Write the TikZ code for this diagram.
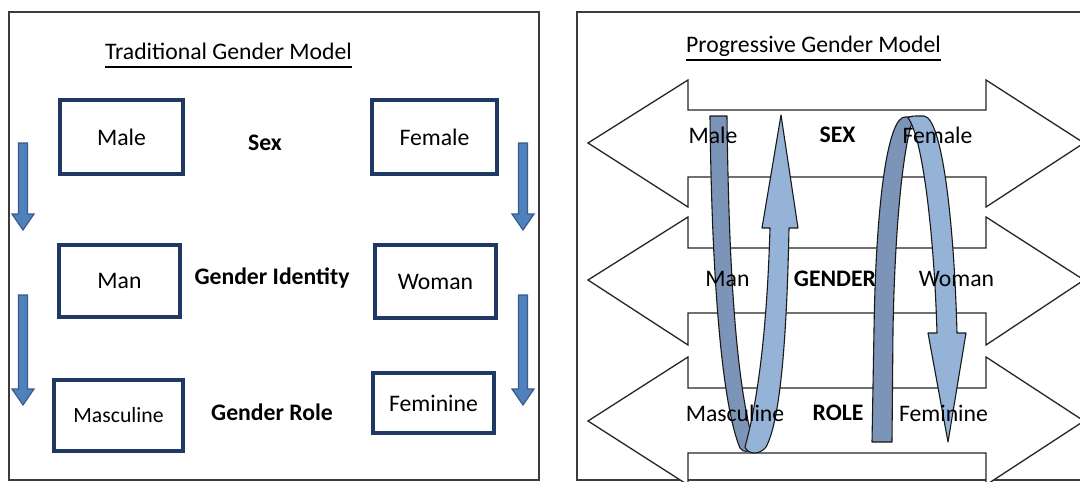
\documentclass[tikz,border=0pt]{standalone}
\usepackage{fontspec}
\setmainfont{Carlito}
\usetikzlibrary{positioning}
\definecolor{boxblue}{RGB}{32,56,100}
\definecolor{arrowblue}{RGB}{79,129,189}
\definecolor{arrowedge}{RGB}{56,93,138}
\definecolor{bandback}{RGB}{124,148,184}
\definecolor{bandfront}{RGB}{149,179,215}
\definecolor{framegray}{RGB}{60,60,60}

\begin{document}
\begin{tikzpicture}[x=1pt, y=-1pt,
  font=\fontsize{23.7}{28}\selectfont,
  genbox/.style={draw=boxblue, line width=4pt, fill=white, inner sep=0pt},
  midlabel/.style={font=\fontsize{23.7}{28}\selectfont\bfseries},
  heading/.style={anchor=base, inner sep=0pt},
  downarrow/.style={draw=arrowedge, fill=arrowblue, line width=1.2pt},
  widearrow/.style={draw=black!85, fill=white, line width=1.3pt},
  band/.style={draw=black!90, line width=1.1pt, line join=round}]

  \useasboundingbox (0,0) rectangle (1080,482);
  \fill[white] (0,0) rectangle (1080,482);

  % traditional model
  \draw[framegray, line width=1.5pt] (9,12) rectangle (539,480);
  \node[heading] (ttitle) at (228.5,59.5) {Traditional Gender Model};
  \draw[line width=1.3pt] ([yshift=-7.5pt]ttitle.base west) -- ([yshift=-7.5pt]ttitle.base east);

  \node[genbox, minimum width=123pt, minimum height=74pt] (male) at (121.5,137) {Male};
  \node[genbox, minimum width=125pt, minimum height=74pt] (female) at (434.5,137) {Female};
  \node[genbox, minimum width=121pt, minimum height=72pt] (man) at (119.5,281) {Man};
  \node[genbox, minimum width=121pt, minimum height=73pt] (woman) at (435.5,281.5) {Woman};
  \node[genbox, minimum width=129pt, minimum height=71pt, font=\fontsize{21.7}{26}\selectfont] (masc) at (118.5,415.5) {Masculine};
  \node[genbox, minimum width=121pt, minimum height=60pt] (fem) at (433.5,403) {Feminine};

  \node[midlabel] (sex) at (265,143) {Sex};
  \node[midlabel] (identity) at (272,278) {Gender Identity};
  \node[midlabel] (role) at (272,412) {Gender Role};

  \foreach \ax/\ay/\by in {23/143/230, 23/295/405, 523/143/230, 523/295/405}
    \draw[downarrow] (\ax-4.5,\ay) -- (\ax+4.5,\ay) -- (\ax+4.5,\by-16) -- (\ax+11,\by-16)
      -- (\ax,\by) -- (\ax-11,\by-16) -- (\ax-4.5,\by-16) -- cycle;

  % progressive model
  \draw[framegray, line width=1.5pt] (577,12) rectangle (1095,480);
  \node[heading] (ptitle) at (813.5,52.5) {Progressive Gender Model};
  \draw[line width=1.3pt] ([yshift=-7.5pt]ptitle.base west) -- ([yshift=-7.5pt]ptitle.base east);

  \foreach \st/\sb/\ht/\hb/\ty in {110/177/80/207/143, 248/313/217/345/280, 388/453/357/485/421}
    \draw[widearrow] (588,\ty) -- (688,\ht) -- (688,\st) -- (986,\st) -- (986,\ht) -- (1084,\ty)
      -- (986,\hb) -- (986,\sb) -- (688,\sb) -- (688,\hb) -- cycle;

  % loop from male down and back up
  \draw[band, fill=bandback] (710,116) -- (727,116) .. controls (729,290) and (738,390) .. (754,445)
    .. controls (750,453) and (743,453) .. (740,448) .. controls (724,410) and (712,300) .. (710,116) -- cycle;
  \draw[band, fill=bandfront] (770,228) -- (762,228) -- (781,115) -- (798,228) -- (789,228)
    .. controls (787,330) and (781,420) .. (766,447) .. controls (760,455) and (748,455) .. (745,447)
    .. controls (758,400) and (767,330) .. (770,228) -- cycle;

  % arch from female over and down
  \draw[band, fill=bandback] (872,442) -- (874,330) .. controls (876,200) and (888,117) .. (905,117)
    -- (914,117) .. controls (904,140) and (895,220) .. (893,330) -- (892,442) -- cycle;
  \draw[band, fill=bandfront] (908,118) .. controls (910,116) and (914,116) .. (918,116) -- (924,116)
    .. controls (942,118) and (954,220) .. (957,333) -- (966,333) -- (948,442) -- (928,333) -- (937,333)
    .. controls (934,230) and (922,135) .. (908,118) -- cycle;

  \node (pmale) at (713,135) {Male};
  \node[midlabel] (psex) at (837.5,135) {SEX};
  \node (pfemale) at (937.5,135) {Female};
  \node (pman) at (727.5,279) {Man};
  \node[midlabel] (pgender) at (835,279) {GENDER};
  \node (pwoman) at (956.5,279) {Woman};
  \node (pmasc) at (735,413) {Masculine};
  \node[midlabel] (prole) at (838,413) {ROLE};
  \node (pfem) at (943.5,413) {Feminine};
\end{tikzpicture}
\end{document}
